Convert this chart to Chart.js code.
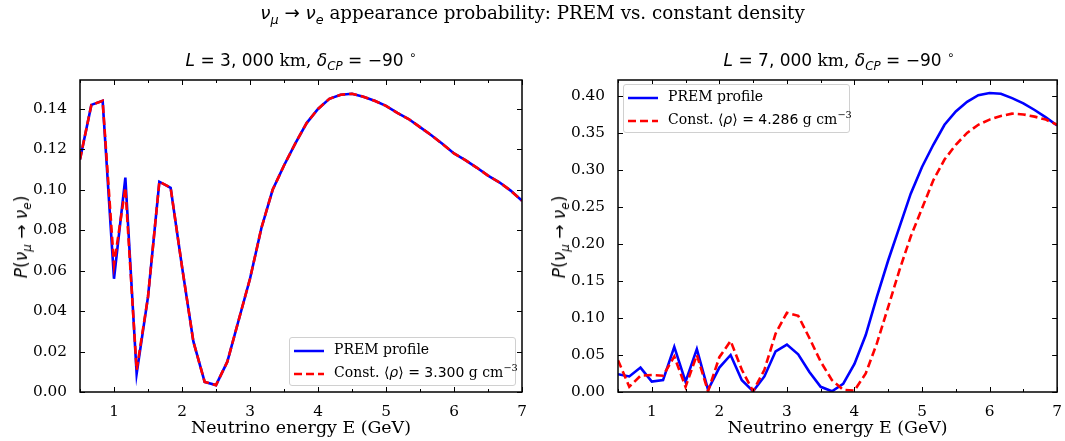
<!DOCTYPE html>
<html>
<head>
<meta charset="utf-8">
<script src="https://cdn.jsdelivr.net/npm/chart.js@4.4.1/dist/chart.umd.min.js"></script>
<style>
  body { margin: 0; background: #fff; }
  #wrap { position: relative; width: 1065px; height: 441px; overflow: hidden; }
  canvas { position: absolute; top: 0; }
  .txt { position: absolute; white-space: nowrap; color: #000; font-family: "DejaVu Serif", serif; }
  .m { font-family: "DejaVu Sans", sans-serif; }
  .m i { font-style: italic; }
  sub, sup { font-size: 70%; line-height: 0; }
  .sup { left: 0; width: 1065px; top: 2px; text-align: center; font-size: 18.3px; }
  .ttl { top: 50px; text-align: center; font-size: 17px; }
  .ylab { top: 237px; font-size: 17px; transform: translate(-50%, -50%) rotate(-90deg); }
  .legend { position: absolute; background: rgba(255,255,255,0.8); border: 1px solid #d0d0d0; border-radius: 3px;
            font-family: "DejaVu Serif", serif; font-size: 14px; box-sizing: border-box; }
  .row { position: absolute; left: 0; height: 20px; white-space: nowrap; }
  .row svg { position: absolute; left: 4px; top: 9px; }
  .row span.lab { position: absolute; left: 44px; top: 1px; }
</style>
</head>
<body>
<div id="wrap">
  <canvas id="c1" width="532" height="441" style="left:0"></canvas>
  <canvas id="c2" width="533" height="441" style="left:532px"></canvas>

  <div class="txt sup"><span class="m"><i>ν</i><sub><i>μ</i></sub> → <i>ν</i><sub><i>e</i></sub></span> appearance probability: PREM vs. constant density</div>

  <div class="txt ttl" style="left:80px;width:442px"><span class="m"><i>L</i> = 3, 000</span> km, <span class="m"><i>δ</i><sub><i>CP</i></sub> = −90 <sup>∘</sup></span></div>
  <div class="txt ttl" style="left:618px;width:442px"><span class="m"><i>L</i> = 7, 000</span> km, <span class="m"><i>δ</i><sub><i>CP</i></sub> = −90 <sup>∘</sup></span></div>

  <div class="txt ylab m" style="left:21px"><i>P</i>(<i>ν</i><sub><i>μ</i></sub> → <i>ν</i><sub><i>e</i></sub>)</div>
  <div class="txt ylab m" style="left:559px"><i>P</i>(<i>ν</i><sub><i>μ</i></sub> → <i>ν</i><sub><i>e</i></sub>)</div>

  <div class="legend" style="left:289px;top:337px;width:227px;height:49px">
    <div class="row" style="top:2px"><svg width="32" height="4"><line x1="0" y1="2" x2="30" y2="2" stroke="#0000ff" stroke-width="2.5"/></svg><span class="lab">PREM profile</span></div>
    <div class="row" style="top:25px"><svg width="32" height="4"><line x1="0" y1="2" x2="30" y2="2" stroke="#ff0000" stroke-width="2.5" stroke-dasharray="8 4"/></svg><span class="lab">Const. <span class="m">⟨<i>ρ</i>⟩ = 3.300</span> g cm<sup>−3</sup></span></div>
  </div>
  <div class="legend" style="left:623px;top:84px;width:227px;height:49px">
    <div class="row" style="top:2px"><svg width="32" height="4"><line x1="0" y1="2" x2="30" y2="2" stroke="#0000ff" stroke-width="2.5"/></svg><span class="lab">PREM profile</span></div>
    <div class="row" style="top:25px"><svg width="32" height="4"><line x1="0" y1="2" x2="30" y2="2" stroke="#ff0000" stroke-width="2.5" stroke-dasharray="8 4"/></svg><span class="lab">Const. <span class="m">⟨<i>ρ</i>⟩ = 4.286</span> g cm<sup>−3</sup></span></div>
  </div>
</div>

<script>
const energy = [0.5, 0.667, 0.833, 1.0, 1.167, 1.333, 1.5, 1.667, 1.833, 2.0,
  2.167, 2.333, 2.5, 2.667, 2.833, 3.0, 3.167, 3.333, 3.5, 3.667,
  3.833, 4.0, 4.167, 4.333, 4.5, 4.667, 4.833, 5.0, 5.167, 5.333,
  5.5, 5.667, 5.833, 6.0, 6.167, 6.333, 6.5, 6.667, 6.833, 7.0];

// L = 3000 km
const prem3000 = [0.115, 0.142, 0.144, 0.056, 0.106, 0.009, 0.047, 0.104, 0.101, 0.062,
  0.025, 0.005, 0.0034, 0.015, 0.0355, 0.056, 0.081, 0.100, 0.112, 0.123,
  0.133, 0.140, 0.145, 0.147, 0.1475, 0.146, 0.144, 0.1415, 0.138, 0.135,
  0.131, 0.127, 0.1226, 0.118, 0.1147, 0.111, 0.107, 0.1037, 0.0996, 0.0946];
const const3000 = [0.115, 0.142, 0.144, 0.063, 0.101, 0.011, 0.047, 0.104, 0.101, 0.062,
  0.025, 0.005, 0.0034, 0.015, 0.0355, 0.056, 0.081, 0.100, 0.112, 0.123,
  0.133, 0.140, 0.145, 0.147, 0.1475, 0.146, 0.144, 0.1415, 0.138, 0.135,
  0.131, 0.127, 0.1226, 0.118, 0.1147, 0.111, 0.107, 0.1037, 0.0996, 0.0946];

// L = 7000 km
const prem7000 = [0.024, 0.021, 0.033, 0.014, 0.016, 0.061, 0.014, 0.058, 0.003, 0.033,
  0.050, 0.016, 0.001, 0.021, 0.055, 0.064, 0.051, 0.027, 0.007, 0.001,
  0.011, 0.038, 0.077, 0.129, 0.178, 0.223, 0.268, 0.304, 0.334, 0.361,
  0.379, 0.392, 0.401, 0.404, 0.403, 0.397, 0.390, 0.381, 0.371, 0.360];
const const7000 = [0.043, 0.007, 0.022, 0.023, 0.022, 0.048, 0.007, 0.050, 0.001, 0.047,
  0.069, 0.030, 0.001, 0.030, 0.079, 0.107, 0.103, 0.073, 0.041, 0.016,
  0.003, 0.002, 0.025, 0.066, 0.115, 0.165, 0.210, 0.248, 0.286, 0.314,
  0.334, 0.350, 0.361, 0.368, 0.373, 0.376, 0.375, 0.372, 0.368, 0.361];

const xTicks = [1, 2, 3, 4, 5, 6, 7];
const xMinorTicks = [0.5, 1.5, 2.5, 3.5, 4.5, 5.5, 6.5];
const yTicks3000 = [0, 0.02, 0.04, 0.06, 0.08, 0.10, 0.12, 0.14];
const yTicks7000 = [0, 0.05, 0.10, 0.15, 0.20, 0.25, 0.30, 0.35, 0.40];

const tickFont = { family: "DejaVu Serif", size: 15.3 };

// inward ticks on all four sides + axes frame
const frame = {
  id: "frame",
  afterDraw(chart, args, opts) {
    const ctx = chart.ctx, a = chart.chartArea;
    const xs = chart.scales.x, ys = chart.scales.y;
    ctx.save();
    ctx.strokeStyle = "#000";
    ctx.lineWidth = 1;
    ctx.beginPath();
    xTicks.forEach(v => {
      const p = Math.round(xs.getPixelForValue(v)) + 0.5;
      ctx.moveTo(p, a.bottom); ctx.lineTo(p, a.bottom - 5);
      ctx.moveTo(p, a.top); ctx.lineTo(p, a.top + 5);
    });
    xMinorTicks.forEach(v => {
      const p = Math.round(xs.getPixelForValue(v)) + 0.5;
      ctx.moveTo(p, a.bottom); ctx.lineTo(p, a.bottom - 3);
      ctx.moveTo(p, a.top); ctx.lineTo(p, a.top + 3);
    });
    opts.yTicks.forEach(v => {
      const p = Math.round(ys.getPixelForValue(v)) + 0.5;
      ctx.moveTo(a.left, p); ctx.lineTo(a.left + 5, p);
      ctx.moveTo(a.right, p); ctx.lineTo(a.right - 5, p);
    });
    ctx.stroke();
    ctx.lineWidth = 1.5;
    ctx.strokeRect(a.left, a.top, a.right - a.left, a.bottom - a.top);
    ctx.restore();
  }
};

function makeChart(id, prem, cst, yTicks, yMax, leftW) {
  return new Chart(document.getElementById(id), {
    type: "line",
    data: {
      labels: energy,
      datasets: [
        {
          label: "PREM profile",
          data: energy.map((e, i) => ({ x: e, y: prem[i] })),
          borderColor: "#0000ff",
          borderWidth: 2.6,
          pointRadius: 0,
          tension: 0,
          order: 2,
        },
        {
          label: "Const. density",
          data: energy.map((e, i) => ({ x: e, y: cst[i] })),
          borderColor: "#ff0000",
          borderWidth: 2.6,
          borderDash: [8, 4],
          pointRadius: 0,
          tension: 0,
          order: 1,
        },
      ],
    },
    options: {
      responsive: false,
      animation: false,
      devicePixelRatio: 1,
      layout: { padding: { top: 80, right: leftW === 80 ? 10 : 5, left: 0, bottom: 0 } },
      plugins: {
        legend: { display: false },
        tooltip: { enabled: false },
        frame: { yTicks: yTicks },
      },
      scales: {
        x: {
          type: "linear",
          min: 0.5,
          max: 7,
          grid: { display: false },
          border: { display: false },
          afterBuildTicks: s => { s.ticks = xTicks.map(v => ({ value: v })); },
          afterFit: s => { s.height = 49; },
          ticks: { font: tickFont, color: "#000", padding: 3, maxRotation: 0,
                   callback: v => String(v) },
          title: { display: true, text: "Neutrino energy E (GeV)", color: "#000",
                   font: { family: "DejaVu Serif", size: 17.4 }, padding: { top: 0, bottom: 2 } },
        },
        y: {
          min: 0,
          max: yMax,
          grid: { display: false },
          border: { display: false },
          afterBuildTicks: s => { s.ticks = yTicks.map(v => ({ value: v })); },
          afterFit: s => { s.width = leftW; },
          ticks: { font: tickFont, color: "#000", padding: 5,
                   callback: v => v.toFixed(2) },
        },
      },
    },
    plugins: [frame],
  });
}

makeChart("c1", prem3000, const3000, yTicks3000, 0.1543, 80);
makeChart("c2", prem7000, const7000, yTicks7000, 0.4215, 86);
</script>
</body>
</html>
